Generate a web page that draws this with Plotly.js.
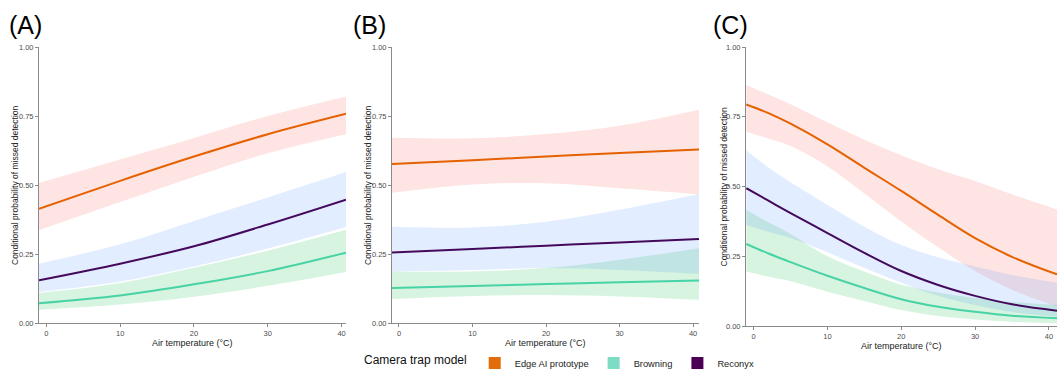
<!DOCTYPE html>
<html>
<head>
<meta charset="utf-8">
<script src="https://cdn.plot.ly/plotly-3.0.1.min.js"></script>
<style>html,body{margin:0;padding:0;background:#fff;}#chart{width:1061px;height:383px;}</style>
</head>
<body>
<div id="chart"></div>
<script>
// ---------- data ----------
const seriesNames = ["Edge AI prototype", "Browning", "Reconyx"];
const panelLabels = ["(A)", "(B)", "(C)"];
const xTitle = "Air temperature (°C)";
const yTitle = "Conditional probability of missed detection";
const yTickVals = [0, 0.25, 0.5, 0.75, 1];
const yTickText = ["0.00", "0.25", "0.50", "0.75", "1.00"];
const xTickVals = [0, 10, 20, 30, 40];

// Panel A
const tempA = [-1, 10, 20, 30, 40.6];
const edgeA = [0.414, 0.515, 0.603, 0.684, 0.758];
const edgeA_hi = [0.507, 0.592, 0.670, 0.750, 0.821];
const edgeA_lo = [0.336, 0.438, 0.530, 0.615, 0.684];
const browA = [0.072, 0.100, 0.140, 0.188, 0.255];
const browA_hi = [0.109, 0.145, 0.200, 0.262, 0.338];
const browA_lo = [0.048, 0.067, 0.095, 0.135, 0.185];
const recoA = [0.155, 0.215, 0.278, 0.357, 0.447];
const recoA_hi = [0.215, 0.285, 0.370, 0.455, 0.547];
const recoA_lo = [0.112, 0.150, 0.205, 0.270, 0.348];

// Panel B
const tempB = [-1, 10, 20, 30, 40.8];
const edgeB = [0.576, 0.590, 0.603, 0.616, 0.629];
const edgeB_hi = [0.671, 0.669, 0.685, 0.715, 0.773];
const edgeB_lo = [0.472, 0.502, 0.506, 0.488, 0.466];
const browB = [0.127, 0.134, 0.141, 0.148, 0.154];
const browB_hi = [0.187, 0.187, 0.199, 0.229, 0.271];
const browB_lo = [0.087, 0.098, 0.101, 0.096, 0.084];
const recoB = [0.255, 0.268, 0.280, 0.292, 0.304];
const recoB_hi = [0.349, 0.346, 0.367, 0.410, 0.467];
const recoB_lo = [0.187, 0.192, 0.199, 0.192, 0.178];

// Panel C
const tempC = [-1, 2, 5, 10, 15, 20, 25, 30, 35, 41.1];
const edgeC = [0.794, 0.763, 0.725, 0.651, 0.567, 0.484, 0.398, 0.315, 0.248, 0.185];
const edgeC_hi = [0.864, 0.830, 0.795, 0.730, 0.668, 0.612, 0.562, 0.520, 0.472, 0.418];
const edgeC_lo = [0.696, 0.672, 0.645, 0.572, 0.475, 0.375, 0.282, 0.197, 0.130, 0.070];
const browC = [0.294, 0.260, 0.229, 0.180, 0.136, 0.096, 0.069, 0.051, 0.037, 0.028];
const browC_hi = [0.416, 0.372, 0.330, 0.250, 0.195, 0.148, 0.120, 0.100, 0.086, 0.075];
const browC_lo = [0.195, 0.177, 0.160, 0.123, 0.090, 0.057, 0.036, 0.023, 0.015, 0.010];
const recoC = [0.494, 0.449, 0.405, 0.333, 0.262, 0.197, 0.147, 0.108, 0.078, 0.055];
const recoC_hi = [0.630, 0.568, 0.515, 0.434, 0.356, 0.290, 0.246, 0.213, 0.183, 0.155];
const recoC_lo = [0.362, 0.338, 0.315, 0.264, 0.208, 0.155, 0.108, 0.075, 0.050, 0.033];

// ---------- styling ----------
const FONT = "Liberation Sans, Arial, sans-serif";
const lineColors = ["#E66100", "#47D3A5", "#45095C"];
const swatchColors = ["#E36C0A", "#7DDCC3", "#4B0055"];
const ribbonColors = ["rgba(248,118,109,0.20)", "rgba(0,186,56,0.16)", "rgba(97,156,255,0.18)"];

const panels = [
  {t: tempA, mean: [edgeA, browA, recoA], hi: [edgeA_hi, browA_hi, recoA_hi], lo: [edgeA_lo, browA_lo, recoA_lo]},
  {t: tempB, mean: [edgeB, browB, recoB], hi: [edgeB_hi, browB_hi, recoB_hi], lo: [edgeB_lo, browB_lo, recoB_lo]},
  {t: tempC, mean: [edgeC, browC, recoC], hi: [edgeC_hi, browC_hi, recoC_hi], lo: [edgeC_lo, browC_lo, recoC_lo]}
];

const SMOOTH = 1;
const traces = [];
panels.forEach((p, i) => {
  const xa = i === 0 ? "x" : "x" + (i + 1);
  const ya = i === 0 ? "y" : "y" + (i + 1);
  for (let s = 0; s < 3; s++) {
    traces.push({type: "scatter", mode: "lines", x: p.t, y: p.lo[s], xaxis: xa, yaxis: ya,
      line: {width: 0, shape: "spline", smoothing: SMOOTH}, showlegend: false, hoverinfo: "skip"});
    traces.push({type: "scatter", mode: "lines", x: p.t, y: p.hi[s], xaxis: xa, yaxis: ya,
      line: {width: 0, shape: "spline", smoothing: SMOOTH}, fill: "tonexty", fillcolor: ribbonColors[s],
      showlegend: false, hoverinfo: "skip"});
  }
  for (let s = 0; s < 3; s++) {
    traces.push({type: "scatter", mode: "lines", x: p.t, y: p.mean[s], xaxis: xa, yaxis: ya,
      name: seriesNames[s], line: {color: lineColors[s], width: 2, shape: "spline", smoothing: SMOOTH},
      showlegend: false});
  }
});
// legend entries
for (let s = 0; s < 3; s++) {
  traces.push({type: "bar", x: [null], y: [null], xaxis: "x", yaxis: "y", name: seriesNames[s],
    marker: {color: swatchColors[s]}, showlegend: true, hoverinfo: "skip"});
}

function xAxis(domain, range, anchor) {
  return {domain: domain, range: range, anchor: anchor, tickvals: xTickVals, ticks: "outside", ticklen: 3,
    tickcolor: "#8a8a8a", tickwidth: 1, showline: true, linecolor: "#8a8a8a", linewidth: 1,
    showgrid: false, zeroline: false, tickfont: {family: FONT, size: 7.5, color: "#4d4d4d"},
    automargin: false, fixedrange: true};
}
function yAxis(domain, anchor) {
  return {domain: domain, range: [0, 1], anchor: anchor, tickvals: yTickVals, ticktext: yTickText,
    ticks: "outside", ticklen: 3, tickcolor: "#8a8a8a", tickwidth: 1, showline: true,
    linecolor: "#8a8a8a", linewidth: 1, showgrid: false, zeroline: false,
    tickfont: {family: FONT, size: 7.5, color: "#4d4d4d"},
    automargin: false, fixedrange: true};
}

const W = 1061, H = 383;
const yDomAB = [60 / H, 336 / H];
const yDomC = [57 / H, 336 / H];

const annotations = [];
// panel labels
[7, 351, 711].forEach((px, i) => annotations.push({text: panelLabels[i], xref: "paper", yref: "paper",
  x: px / W, y: 1 - 25 / H, xanchor: "left", yanchor: "middle", showarrow: false,
  font: {family: FONT, size: 25, color: "#000"}}));
// axis titles
const axIds = ["", "2", "3"];
const yTitleX = [15, 368, 723];
const xTitleY = [343, 343, 346];
axIds.forEach((id, i) => {
  annotations.push({text: xTitle, xref: "x" + id + " domain", yref: "paper", x: 0.5, y: 1 - xTitleY[i] / H,
    xanchor: "center", yanchor: "middle", showarrow: false, font: {family: FONT, size: 9, color: "#222"}});
  annotations.push({text: yTitle, xref: "paper", yref: "y" + id + " domain", x: yTitleX[i] / W, y: 0.5,
    xanchor: "center", yanchor: "middle", textangle: -90, showarrow: false,
    font: {family: FONT, size: 8.5, color: "#222"}});
});

const layout = {
  width: W, height: H,
  margin: {l: 0, r: 0, t: 0, b: 0},
  paper_bgcolor: "#fff", plot_bgcolor: "#fff",
  font: {family: FONT},
  showlegend: true,
  barmode: "overlay",
  xaxis: xAxis([39 / W, 346 / W], [-1, 40.6], "y"),
  yaxis: yAxis(yDomAB, "x"),
  xaxis2: xAxis([392 / W, 699 / W], [-0.95, 40.8], "y2"),
  yaxis2: yAxis(yDomAB, "x2"),
  xaxis3: xAxis([746 / W, 1057 / W], [-1.04, 41.1], "y3"),
  yaxis3: yAxis(yDomC, "x3"),
  legend: {orientation: "h", traceorder: "normal", x: 362 / W, xanchor: "left", y: 20 / H, yanchor: "middle",
    valign: "middle",
    font: {family: FONT, size: 9.3, color: "#222"}, itemwidth: 30, tracegroupgap: 0,
    title: {text: "Camera trap model", side: "left", font: {family: FONT, size: 12, color: "#111"}},
    bgcolor: "rgba(0,0,0,0)"},
  annotations: annotations
};

Plotly.newPlot("chart", traces, layout, {displayModeBar: false, staticPlot: true});
</script>
</body>
</html>
